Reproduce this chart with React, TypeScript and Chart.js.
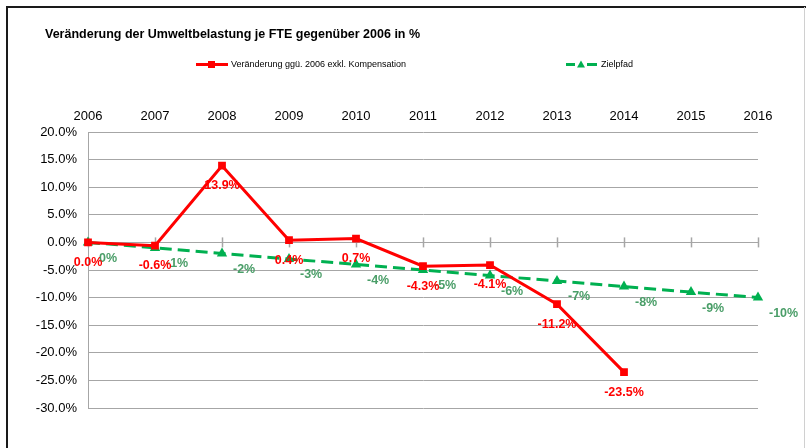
import React, { useEffect, useRef } from "react";
import { Chart, registerables } from "chart.js";

Chart.register(...registerables);

const years = ["2006", "2007", "2008", "2009", "2010", "2011", "2012", "2013", "2014", "2015", "2016"];
const actualValues = [0.0, -0.6, 13.9, 0.4, 0.7, -4.3, -4.1, -11.2, -23.5, null, null];
const targetValues = [0, -1, -2, -3, -4, -5, -6, -7, -8, -9, -10];
const actualLabels = ["0.0%", "-0.6%", "13.9%", "0.4%", "0.7%", "-4.3%", "-4.1%", "-11.2%", "-23.5%", "", ""];
const targetLabels = ["0%", "-1%", "-2%", "-3%", "-4%", "-5%", "-6%", "-7%", "-8%", "-9%", "-10%"];
const seriesNames = ["Veränderung ggü. 2006 exkl. Kompensation", "Zielpfad"];
const titleText = "Veränderung der Umweltbelastung je FTE gegenüber 2006 in %";

const RED = "#ff0000";
const GREEN = "#00b050";
const GREEN_LABEL = "#4a9e68";
const GRID = "#a6a6a6";
const FONT = "Arial, 'Liberation Sans', sans-serif";

const decorPlugin = {
  id: "decor",
  beforeDraw(chart: any) {
    const ctx = chart.ctx;
    ctx.save();
    ctx.fillStyle = "#ffffff";
    ctx.fillRect(0, 0, chart.width, chart.height);
    ctx.strokeStyle = "#1a1a1a";
    ctx.lineWidth = 2;
    ctx.beginPath();
    ctx.moveTo(7, chart.height);
    ctx.lineTo(7, 7);
    ctx.lineTo(chart.width, 7);
    ctx.stroke();
    ctx.strokeStyle = "#d0d0d0";
    ctx.lineWidth = 1;
    ctx.beginPath();
    ctx.moveTo(804.5, 7);
    ctx.lineTo(804.5, chart.height);
    ctx.stroke();
    // title
    ctx.fillStyle = "#000";
    ctx.font = `bold 12.5px ${FONT}`;
    ctx.textBaseline = "middle";
    ctx.textAlign = "left";
    ctx.fillText(titleText, 45, 35);
    // legend
    const ly = 64.5;
    ctx.font = `9px ${FONT}`;
    ctx.strokeStyle = RED;
    ctx.lineWidth = 3;
    ctx.setLineDash([]);
    ctx.beginPath();
    ctx.moveTo(196, ly);
    ctx.lineTo(228, ly);
    ctx.stroke();
    ctx.fillStyle = RED;
    ctx.fillRect(208, ly - 3.5, 7, 7);
    ctx.fillStyle = "#000";
    ctx.fillText(seriesNames[0], 231, ly);
    ctx.strokeStyle = GREEN;
    ctx.lineWidth = 3;
    ctx.beginPath();
    ctx.moveTo(566, ly);
    ctx.lineTo(575, ly);
    ctx.moveTo(587, ly);
    ctx.lineTo(597, ly);
    ctx.stroke();
    ctx.fillStyle = GREEN;
    ctx.beginPath();
    ctx.moveTo(581, ly - 4);
    ctx.lineTo(585, ly + 3);
    ctx.lineTo(577, ly + 3);
    ctx.closePath();
    ctx.fill();
    ctx.fillStyle = "#000";
    ctx.fillText(seriesNames[1], 601, ly);
    ctx.restore();
  },
  beforeDatasetsDraw(chart: any) {
    const ctx = chart.ctx;
    const x = chart.scales.x;
    const y = chart.scales.y;
    const y0 = y.getPixelForValue(0);
    ctx.save();
    ctx.strokeStyle = GRID;
    ctx.lineWidth = 1.5;
    for (let i = 0; i < years.length; i++) {
      const px = Math.round(x.getPixelForValue(i)) + 0.5;
      ctx.beginPath();
      ctx.moveTo(px, y0 - 5);
      ctx.lineTo(px, y0 + 5);
      ctx.stroke();
    }
    ctx.restore();
  },
  afterDatasetsDraw(chart: any) {
    const ctx = chart.ctx;
    ctx.save();
    ctx.font = `bold 12.5px ${FONT}`;
    ctx.textBaseline = "middle";
    const gMeta = chart.getDatasetMeta(1);
    ctx.fillStyle = GREEN_LABEL;
    ctx.textAlign = "left";
    gMeta.data.forEach((pt: any, i: number) => {
      if (!targetLabels[i]) return;
      ctx.fillText(targetLabels[i], pt.x + 11, pt.y + 16);
    });
    const rMeta = chart.getDatasetMeta(0);
    ctx.fillStyle = RED;
    ctx.textAlign = "center";
    rMeta.data.forEach((pt: any, i: number) => {
      if (!actualLabels[i] || actualValues[i] === null) return;
      ctx.fillText(actualLabels[i], pt.x, pt.y + 20);
    });
    ctx.restore();
  },
};

export default function App() {
  const ref = useRef<HTMLCanvasElement>(null);
  useEffect(() => {
    if (!ref.current) return;
    const chart = new Chart(ref.current, {
      type: "line",
      data: {
        labels: years,
        datasets: [
          {
            label: seriesNames[0],
            data: actualValues,
            borderColor: RED,
            backgroundColor: RED,
            borderWidth: 3,
            pointStyle: "rect",
            pointRadius: 5.5,
            pointBorderWidth: 0,
            tension: 0,
            spanGaps: false,
          },
          {
            label: seriesNames[1],
            data: targetValues,
            borderColor: GREEN,
            backgroundColor: GREEN,
            borderWidth: 3,
            borderDash: [12, 6],
            pointStyle: "triangle",
            pointRadius: 6,
            pointBorderWidth: 0,
            tension: 0,
          },
        ],
      },
      options: {
        animation: false,
        responsive: false,
        maintainAspectRatio: false,
        layout: { padding: { left: 0, top: 0, right: 48, bottom: 40 } },
        plugins: {
          legend: { display: false },
          title: { display: false },
          tooltip: { enabled: false },
        },
        scales: {
          x: {
            type: "category",
            position: "top",
            offset: false,
            grid: { display: false, drawTicks: false },
            border: { display: false },
            ticks: {
              color: "#000",
              font: { family: FONT, size: 13 },
              padding: 8,
              maxRotation: 0,
              autoSkip: false,
            },
            afterFit: (s: any) => {
              s.height = 132;
            },
          },
          y: {
            min: -30,
            max: 20,
            grid: { color: GRID, lineWidth: 1, drawTicks: false },
            border: { display: true, color: GRID, width: 1 },
            ticks: {
              stepSize: 5,
              color: "#000",
              font: { family: FONT, size: 13 },
              padding: 11,
              callback: (v: any) => Number(v).toFixed(1) + "%",
            },
            afterFit: (s: any) => {
              s.width = 88;
            },
          },
        },
      },
      plugins: [decorPlugin],
    });
    return () => chart.destroy();
  }, []);
  return (
    <div style={{ position: "fixed", left: 0, top: 0, width: 806, height: 448, background: "#fff" }}>
      <canvas ref={ref} width={806} height={448} style={{ display: "block" }} />
    </div>
  );
}
